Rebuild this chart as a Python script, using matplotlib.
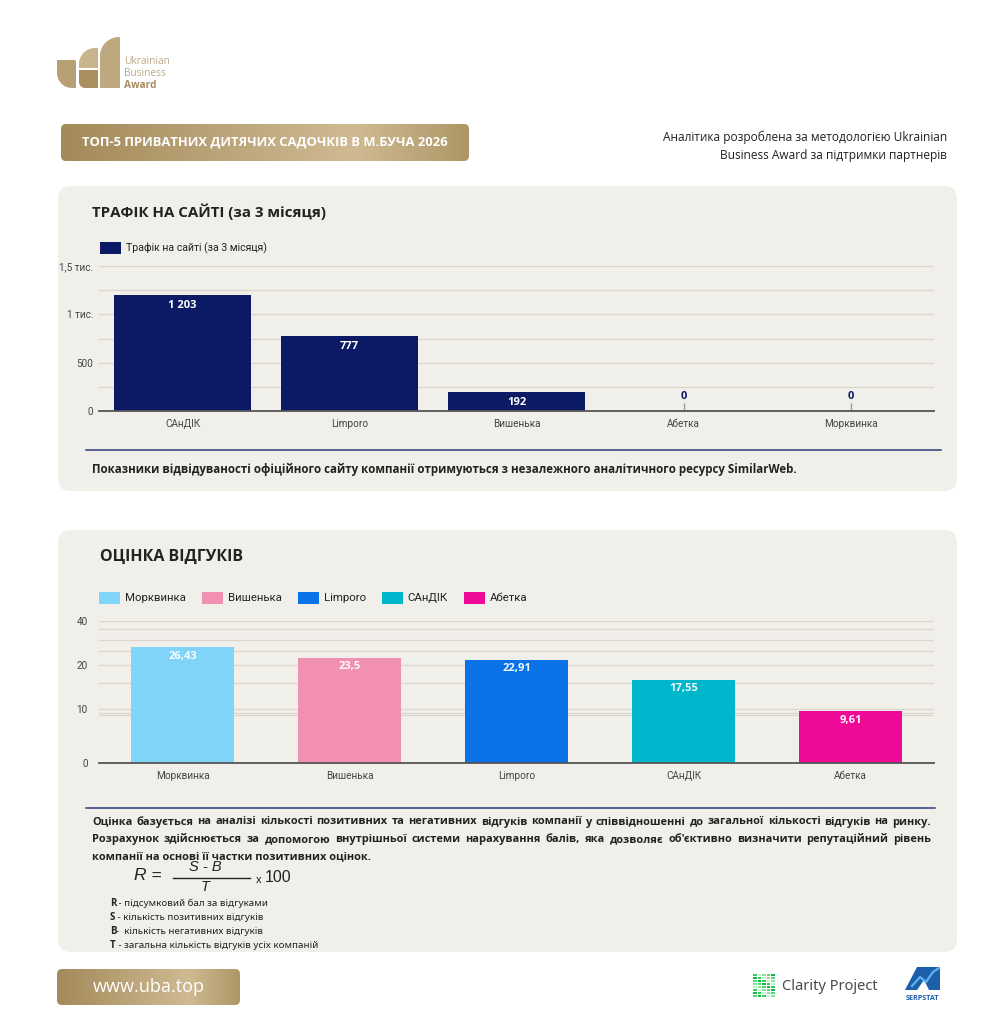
"""Ukrainian Business Award: traffic and reviews card for Bucha kindergartens."""

import matplotlib
matplotlib.use("Agg")
import matplotlib.pyplot as plt
from matplotlib.colors import LinearSegmentedColormap
from matplotlib.patches import FancyBboxPatch, Polygon, Rectangle
import numpy as np

W, H = 1004, 1024

# --- data -------------------------------------------------------------------
traffic_names = ["САнДІК", "Limporo", "Вишенька", "Абетка", "Морквинка"]
traffic_values = [1203, 777, 192, 0, 0]
traffic_ticks = [0, 500, 1000, 1500]
traffic_tick_labels = ["0", "500", "1 тис.", "1,5 тис."]

review_names = ["Морквинка", "Вишенька", "Limporo", "САнДІК", "Абетка"]
review_values = [26.43, 23.5, 22.91, 17.55, 9.61]
review_tick_labels = ["0", "10", "20", "40"]

# --- style ------------------------------------------------------------------
PANEL = "#f1efe9"
NAVY = "#0c1a66"
GRID = "#dad7d1"
TEXT = "#222222"
REVIEW_COLORS = ["#80d4f8", "#f290b2", "#0a73e8", "#00b6cc", "#ee0a97"]
# the source chart is drawn on a compressed (non-linear) value axis
REVIEW_POWER = 0.8
REVIEW_YMAX = 34.1
# ...and puts its tick labels and grid lines at odd heights
REVIEW_TICK_FRACS = [0.0, 0.378, 0.691, 1.0]
REVIEW_GRID_FRACS = [1.0, 0.943, 0.866, 0.788, 0.691, 0.566, 0.378, 0.354, 0.335]
GOLD_CMAP = LinearSegmentedColormap.from_list(
    "gold", [(0, "#a38a5a"), (0.72, "#cfba92"), (1, "#ae9666")])

UI = ["Open Sans", "DejaVu Sans"]
CHART = ["Roboto", "DejaVu Sans"]
NARROW = ["Liberation Sans Narrow", "Noto Sans", "DejaVu Sans"]


def px_axes(fig, x0, y0, x1, y1):
    return fig.add_axes([x0 / W, 1 - y1 / H, (x1 - x0) / W, (y1 - y0) / H])


def rounded(ax, x0, y0, x1, y1, radius, **kw):
    box = FancyBboxPatch((x0, y0), x1 - x0, y1 - y0,
                         boxstyle=f"round,pad=0,rounding_size={radius}", **kw)
    ax.add_patch(box)
    return box


def gold_box(ax, x0, y0, x1, y1, radius):
    box = rounded(ax, x0, y0, x1, y1, radius, linewidth=0, facecolor="none")
    grad = np.tile(np.linspace(0, 1, 256), (8, 1))
    img = ax.imshow(grad, cmap=GOLD_CMAP, extent=(x0, x1, y1, y0),
                    aspect="auto", zorder=1, interpolation="bilinear")
    img.set_clip_path(box)
    return box


def justified(ax, renderer, line, x0, x1, y, **kw):
    items = [ax.text(0, y, word, va="center", **kw) for word in line.split()]
    widths = [t.get_window_extent(renderer).width for t in items]
    gap = (x1 - x0 - sum(widths)) / (len(items) - 1)
    x = x0
    for item, width in zip(items, widths):
        item.set_x(x)
        x += width + gap


def fmt_int(value):
    return f"{value:,}".replace(",", " ")


def fmt_dec(value):
    return f"{value:g}".replace(".", ",")


def leaf(x0, y0, x1, y1, r_tl=0.0, r_bl=0.0, r_tr=0.0):
    """Box (y grows downward) with optional rounded corners, as polygon points."""
    pts = []
    t = np.linspace(0, np.pi / 2, 12)
    if r_tl:
        pts += [(x0 + r_tl - r_tl * np.cos(a), y0 + r_tl - r_tl * np.sin(a)) for a in t]
    else:
        pts.append((x0, y0))
    if r_tr:
        pts += [(x1 - r_tr + r_tr * np.sin(a), y0 + r_tr - r_tr * np.cos(a)) for a in t]
    else:
        pts.append((x1, y0))
    pts.append((x1, y1))
    if r_bl:
        pts += [(x0 + r_bl - r_bl * np.sin(a), y1 - r_bl + r_bl * np.cos(a)) for a in t]
    else:
        pts.append((x0, y1))
    return pts


def draw_logo(ax):
    ax.add_patch(Polygon(leaf(57, 60, 76, 88, r_bl=15, r_tr=2), color="#b7a073", lw=0))
    ax.add_patch(Polygon(leaf(79, 48, 98, 68, r_tl=16), color="#c9b58d", lw=0))
    ax.add_patch(Polygon(leaf(79, 70, 98, 88, r_bl=6), color="#a98f5f", lw=0))
    ax.add_patch(Polygon(leaf(100, 37, 120, 88, r_tl=19), color="#bea97e", lw=0))
    ax.text(124, 61, "Ukrainian", fontsize=7.3, color="#bba986", va="center", family=UI)
    ax.text(124, 73, "Business", fontsize=7.3, color="#bba986", va="center", family=UI)
    ax.text(124, 85, "Award", fontsize=7.3, color="#a58c5c", va="center",
            weight="bold", family=UI)


def draw_partner_logos(ax):
    greens = ["#2fd05a", "#8be39d", "#18b548", "#c9f0d2", "#52da74"]
    for col in range(5):
        for row in range(8):
            shade = greens[(col * 3 + row * 2) % len(greens)]
            ax.add_patch(Rectangle((753 + col * 4.6, 974 + row * 3.0), 3.6, 2.4,
                                   color=shade, lw=0))
    ax.text(782, 986, "Clarity Project", fontsize=10.5, color="#4a4a4a",
            va="center", family=["Noto Sans", "DejaVu Sans"])
    ax.add_patch(Polygon([(905, 990), (917, 967), (940, 967), (940, 990), (929, 990),
                          (924, 980), (917, 990)], closed=True, color="#1d5fa8", lw=0))
    ax.plot([912, 920, 926, 933, 939], [986, 977, 982, 972, 968], color="#5fb4f0", lw=1.6)
    ax.text(922, 999, "SERPSTAT", fontsize=5.2, color="#1d5fa8", ha="center",
            va="center", weight="bold", family=UI)


def main():
    fig = plt.figure(figsize=(W / 100, H / 100), dpi=100)
    fig.patch.set_facecolor("white")
    canvas = fig.add_axes([0, 0, 1, 1])
    canvas.axis("off")
    renderer = fig.canvas.get_renderer()

    draw_logo(canvas)

    # header
    gold_box(canvas, 61, 124, 469, 161, 5)
    canvas.text(265, 142.5, "ТОП-5 ПРИВАТНИХ ДИТЯЧИХ САДОЧКІВ В М.БУЧА 2026",
                ha="center", va="center", color="white", fontsize=9.4,
                weight="bold", family=UI, zorder=3)
    canvas.text(947, 137, "Аналітика розроблена за методологією Ukrainian",
                ha="right", va="center", fontsize=8.6, color=TEXT, family=UI)
    canvas.text(947, 155, "Business Award за підтримки партнерів",
                ha="right", va="center", fontsize=8.6, color=TEXT, family=UI)

    # panels
    rounded(canvas, 58, 186, 957, 491, 13, facecolor=PANEL, linewidth=0, zorder=0)
    rounded(canvas, 58, 530, 957, 952, 13, facecolor=PANEL, linewidth=0, zorder=0)

    # ---- traffic panel ----
    canvas.text(92, 212, "ТРАФІК НА САЙТІ (за 3 місяця)", fontsize=10.9,
                weight="bold", va="center", color=TEXT, family=UI)
    canvas.add_patch(Rectangle((100, 242), 21, 12, color=NAVY, lw=0))
    canvas.text(126, 248, "Трафік на сайті (за 3 місяця)", fontsize=7.6,
                va="center", color=TEXT, family=CHART)

    ax1 = px_axes(fig, 99, 266, 934, 411)
    ax1.set_facecolor("none")
    x1 = np.arange(len(traffic_names))
    bars = ax1.bar(x1, traffic_values, width=0.82, color=NAVY, zorder=3)
    for bar, value in zip(bars, traffic_values):
        cx = bar.get_x() + bar.get_width() / 2
        if value > 0:
            ax1.annotate(fmt_int(value), (cx, value), xytext=(0, -3.5),
                         textcoords="offset points", ha="center", va="top",
                         color="white", fontsize=8, weight="bold", family=UI, zorder=4)
        else:
            ax1.vlines(cx, 0, 85, color="#9a9a9a", lw=1, zorder=3)
            ax1.annotate(fmt_int(value), (cx, 0), xytext=(0, 10.5),
                         textcoords="offset points", ha="center", va="center",
                         color=NAVY, fontsize=8, weight="bold", family=UI, zorder=4)
    ax1.set_xlim(-0.5, len(traffic_names) - 0.5)
    ax1.set_ylim(0, 1500)
    ax1.set_yticks(traffic_ticks, traffic_tick_labels)
    ax1.set_yticks(np.arange(250, 1500, 500), minor=True)
    ax1.set_xticks(x1, traffic_names)
    ax1.grid(axis="y", which="both", color=GRID, lw=0.9, zorder=0)
    ax1.axhline(0, color="#555555", lw=1.3, zorder=4, clip_on=False)
    ax1.tick_params(axis="both", which="both", length=0, labelsize=7.2, colors="#444444")
    ax1.tick_params(axis="x", pad=6)
    ax1.tick_params(axis="y", pad=4)
    for lab in ax1.get_xticklabels() + ax1.get_yticklabels():
        lab.set_family(CHART)
    for spine in ax1.spines.values():
        spine.set_visible(False)

    canvas.plot([86, 941], [450, 450], color="#2c3a78", lw=1.1)
    canvas.text(92, 469, "Показники відвідуваності офіційного сайту компанії отримуються "
                "з незалежного аналітичного ресурсу SimilarWeb.", fontsize=8.3,
                weight="bold", va="center", color=TEXT, family=UI)

    # ---- reviews panel ----
    canvas.text(100, 557, "ОЦІНКА ВІДГУКІВ", fontsize=11.5, weight="bold",
                va="center", color=TEXT, family=UI)
    lx = 99
    for name, color in zip(review_names, REVIEW_COLORS):
        canvas.add_patch(Rectangle((lx, 592), 21, 12, color=color, lw=0))
        label = canvas.text(lx + 26, 598, name, fontsize=8.2, va="center",
                            color=TEXT, family=CHART)
        lx += 26 + label.get_window_extent(renderer).width + 16

    ax2 = px_axes(fig, 99, 621.3, 934, 762.7)
    ax2.set_facecolor("none")
    fwd = lambda v: np.sign(v) * np.abs(v) ** REVIEW_POWER
    inv = lambda v: np.sign(v) * np.abs(v) ** (1 / REVIEW_POWER)
    ax2.set_yscale("function", functions=(fwd, inv))
    at_frac = lambda f: float(inv(f * fwd(REVIEW_YMAX)))
    x2 = np.arange(len(review_names))
    bars = ax2.bar(x2, review_values, width=0.62, color=REVIEW_COLORS, zorder=3)
    for bar, value in zip(bars, review_values):
        ax2.annotate(fmt_dec(value), (bar.get_x() + bar.get_width() / 2, value),
                     xytext=(0, -2.5), textcoords="offset points", ha="center",
                     va="top", color="white", fontsize=8, weight="bold",
                     family=UI, zorder=4, alpha=0.95)
    ax2.set_xlim(-0.5, len(review_names) - 0.5)
    ax2.set_ylim(0, REVIEW_YMAX)
    ax2.set_yticks([at_frac(f) for f in REVIEW_TICK_FRACS], review_tick_labels)
    ax2.yaxis.set_minor_locator(matplotlib.ticker.NullLocator())
    ax2.set_xticks(x2, review_names)
    for frac in REVIEW_GRID_FRACS:
        ax2.axhline(at_frac(frac), color=GRID, lw=0.9, zorder=0)
    ax2.axhline(0, color="#555555", lw=1.3, zorder=4, clip_on=False)
    ax2.tick_params(axis="both", length=0, labelsize=7.2, colors="#444444")
    ax2.tick_params(axis="x", pad=6)
    ax2.tick_params(axis="y", pad=8)
    for lab in ax2.get_xticklabels() + ax2.get_yticklabels():
        lab.set_family(CHART)
    for spine in ax2.spines.values():
        spine.set_visible(False)

    canvas.plot([86, 935], [808, 808], color="#2c3a78", lw=1.1)
    para = [
        "Оцінка базується на аналізі кількості позитивних та негативних відгуків "
        "компанії у співвідношенні до загальної кількості відгуків на ринку.",
        "Розрахунок здійснюється за допомогою внутрішньої системи нарахування балів, "
        "яка дозволяє об'єктивно визначити репутаційний рівень",
    ]
    for i, line in enumerate(para):
        justified(canvas, renderer, line, 92, 931, 822 + i * 17.5, fontsize=7.9,
                  weight="bold", color=TEXT, family=UI)
    canvas.text(92, 856.5, "компанії на основі її частки позитивних оцінок.",
                fontsize=7.9, weight="bold", va="center", color=TEXT, family=UI)

    # formula
    ital = dict(style="italic", color=TEXT, family=["Liberation Sans", "DejaVu Sans"])
    canvas.text(134, 875, "R =", fontsize=12.5, va="center", **ital)
    canvas.text(205, 867, "S - B", fontsize=10.5, va="center", ha="center", **ital)
    canvas.plot([173, 250], [877.5, 877.5], color=TEXT, lw=1)
    canvas.text(205, 887, "T", fontsize=10.5, va="center", ha="center", **ital)
    canvas.text(256, 880, "x", fontsize=8, va="center", color=TEXT,
                family=["Liberation Sans", "DejaVu Sans"])
    canvas.text(265, 878, "100", fontsize=11.5, va="center", color=TEXT,
                family=["Liberation Sans", "DejaVu Sans"])

    legend_rows = [
        ("R", " - підсумковий бал за відгуками"),
        ("S", " - кількість позитивних відгуків"),
        ("B", "-  кількість негативних відгуків"),
        ("T", " - загальна кількість відгуків усіх компаній"),
    ]
    for i, (key, rest) in enumerate(legend_rows):
        y = 905.5 + i * 14.3
        head = canvas.text(110, y, key, fontsize=7, weight="bold", va="baseline",
                           color=TEXT, family=UI)
        wid = head.get_window_extent(renderer).width
        canvas.text(110 + wid, y, rest, fontsize=7, va="baseline", color=TEXT,
                    family=NARROW)

    # footer
    gold_box(canvas, 57, 969, 240, 1005, 5)
    canvas.text(148.5, 987, "www.uba.top", ha="center", va="center", color="white",
                fontsize=13, family=UI, zorder=3)
    draw_partner_logos(canvas)

    canvas.set_xlim(0, W)
    canvas.set_ylim(H, 0)
    fig.savefig("out.png", dpi=100)


if __name__ == "__main__":
    main()
